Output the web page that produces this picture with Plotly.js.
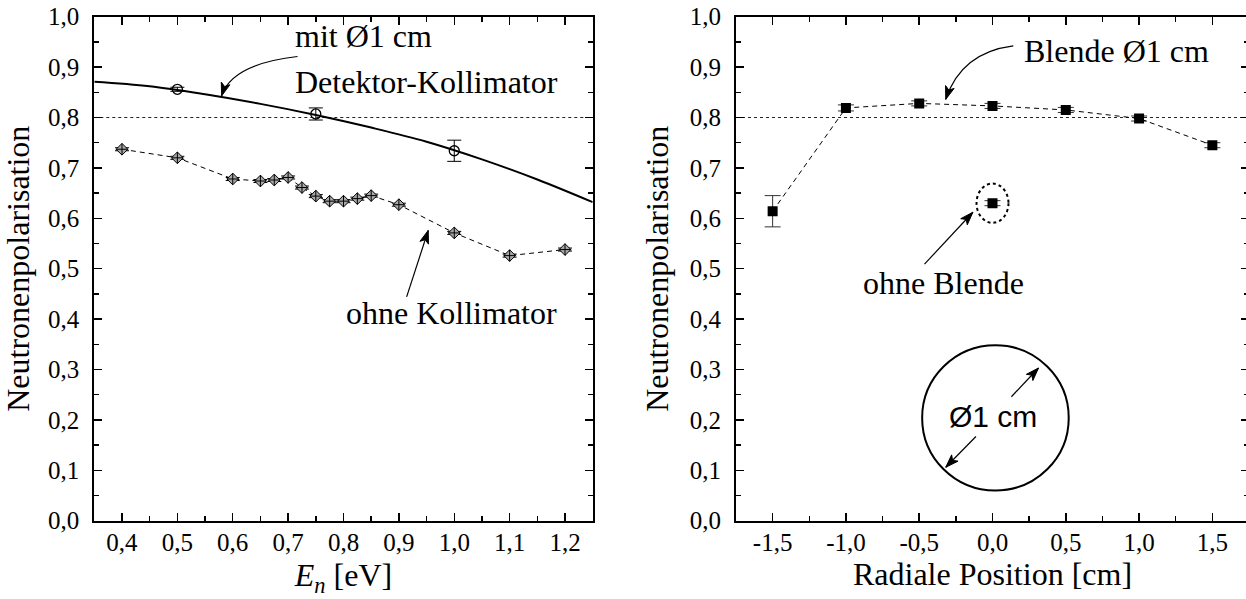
<!DOCTYPE html>
<html>
<head>
<meta charset="utf-8">
<script src="https://cdn.plot.ly/plotly-3.0.1.min.js"></script>
<style>
  html, body { margin: 0; padding: 0; background: #fff; overflow: hidden; }
  #chart { width: 1249px; height: 599px; }
</style>
</head>
<body>
<div id="chart"></div>
<script>
// ---- Left panel: polarisation vs. neutron energy ----
const EN_DET   = [0.5, 0.75, 1.0];            // with 1 cm detector collimator
const POL_DET  = [0.856, 0.807, 0.734];
const ERR_DET  = [0.004, 0.012, 0.021];

const EN_FIT   = [0.35, 0.45, 0.55, 0.65, 0.75, 0.85, 0.95, 1.05, 1.15, 1.25];
const POL_FIT  = [0.871, 0.862, 0.846, 0.827, 0.805, 0.780, 0.752, 0.717, 0.677, 0.632];

const EN_OHNE  = [0.4, 0.5, 0.6, 0.65, 0.675, 0.7, 0.725, 0.75, 0.775, 0.8, 0.825, 0.85, 0.9, 1.0, 1.1, 1.2];
const POL_OHNE = [0.737, 0.720, 0.678, 0.674, 0.676, 0.681, 0.661, 0.644, 0.634, 0.634, 0.639, 0.645, 0.627, 0.571, 0.526, 0.538];
const ERR_OHNE = [0.003, 0.003, 0.003, 0.003, 0.003, 0.003, 0.003, 0.003, 0.003, 0.003, 0.003, 0.003, 0.003, 0.003, 0.003, 0.003];

// ---- Right panel: polarisation vs. radial position ----
const POS          = [-1.5, -1.0, -0.5, 0.0, 0.5, 1.0, 1.5];
const POL_BLENDE   = [0.614, 0.819, 0.828, 0.823, 0.815, 0.798, 0.745];
const ERR_BLENDE   = [0.031, 0.006, 0.005, 0.005, 0.005, 0.005, 0.005];
const POS_FREI     = [0.0];
const POL_FREI     = [0.630];
const ERR_FREI     = [0.005];

const REF_LEVEL = 0.8;

const EN_TICKS  = [0.4, 0.5, 0.6, 0.7, 0.8, 0.9, 1.0, 1.1, 1.2];
const POS_TICKS = [-1.5, -1.0, -0.5, 0.0, 0.5, 1.0, 1.5];
const POS_TICKTEXT = ['-1,5', '-1,0', '-0,5', '0,0', '0,5', '1,0', '1,5'];
const POL_TICKS = [0, 0.1, 0.2, 0.3, 0.4, 0.5, 0.6, 0.7, 0.8, 0.9, 1.0];

const W = 1249, H = 599;
const SERIF = '"Liberation Serif"';
const SANS = '"Liberation Sans"';

// pixel geometry of the two panels
const X1_DOM = [94.3 / W, 592.7 / W], X1_RANGE = [0.35, 1.25];
const X2_DOM = [736 / W, 1.0],        X2_RANGE = [-1.75, 1.75];
const Y_DOM  = [(H - 520.7) / H, (H - 16.7) / H];
const PX_Y   = (Y_DOM[1] - Y_DOM[0]) * H;                   // px per unit polarisation
const PX_X1  = (X1_DOM[1] - X1_DOM[0]) * W / (X1_RANGE[1] - X1_RANGE[0]);
const PX_X2  = (X2_DOM[1] - X2_DOM[0]) * W / (X2_RANGE[1] - X2_RANGE[0]);

// filled arrowhead at (tx,ty) pointing away from (fx,fy), built in pixel space
function arrowHead(xref, yref, pxX, fx, fy, tx, ty) {
  const dx = (tx - fx) * pxX, dy = (ty - fy) * PX_Y;
  const len = Math.hypot(dx, dy), ux = dx / len, uy = dy / len;
  const L = 13, hw = 4.5;
  const bx = -ux * L, by = -uy * L;
  const p1 = [tx + (bx - uy * hw) / pxX, ty + (by + ux * hw) / PX_Y];
  const p2 = [tx + (bx + uy * hw) / pxX, ty + (by - ux * hw) / PX_Y];
  const notch = [tx + (bx * 0.75) / pxX, ty + (by * 0.75) / PX_Y];
  return { type: 'path', xref: xref, yref: yref,
    path: `M ${tx} ${ty} L ${p1[0]} ${p1[1]} L ${notch[0]} ${notch[1]} L ${p2[0]} ${p2[1]} Z`,
    fillcolor: 'black', line: { color: 'black', width: 1 } };
}
function straightArrow(xref, yref, pxX, fx, fy, tx, ty) {
  return [
    { type: 'line', xref: xref, yref: yref, x0: fx, y0: fy, x1: tx, y1: ty,
      line: { color: 'black', width: 1.2 } },
    arrowHead(xref, yref, pxX, fx, fy, tx, ty)
  ];
}
function curvedArrow(xref, yref, pxX, sx, sy, cx, cy, tx, ty) {
  return [
    { type: 'path', xref: xref, yref: yref, path: `M ${sx} ${sy} Q ${cx} ${cy} ${tx} ${ty}`,
      line: { color: 'black', width: 1.2 } },
    arrowHead(xref, yref, pxX, cx, cy, tx, ty)
  ];
}

const traces = [
  { x: EN_FIT, y: POL_FIT, xaxis: 'x', yaxis: 'y', mode: 'lines',
    line: { color: 'black', width: 2, shape: 'spline' }, hoverinfo: 'skip' },
  { x: EN_DET, y: POL_DET, xaxis: 'x', yaxis: 'y', mode: 'markers',
    marker: { symbol: 'circle-open', size: 10, color: 'black', line: { width: 1.3 } },
    error_y: { type: 'data', array: ERR_DET, visible: true, color: 'black', thickness: 1, width: 7 } },
  { x: EN_OHNE, y: POL_OHNE, xaxis: 'x', yaxis: 'y', mode: 'lines+markers',
    line: { color: 'black', width: 1, dash: '5px,4px' },
    marker: { symbol: 'diamond-cross', size: 9, color: '#a8a8a8', line: { color: 'black', width: 1 } },
    error_y: { type: 'data', array: ERR_OHNE, visible: true, color: 'black', thickness: 1, width: 7 } },
  { x: POS, y: POL_BLENDE, xaxis: 'x2', yaxis: 'y2', mode: 'lines+markers',
    line: { color: 'black', width: 1, dash: '5px,4px' },
    marker: { symbol: 'square', size: 10, color: 'black' },
    error_y: { type: 'data', array: ERR_BLENDE, visible: true, color: '#333', thickness: 1, width: 8 } },
  { x: POS_FREI, y: POL_FREI, xaxis: 'x2', yaxis: 'y2', mode: 'markers',
    marker: { symbol: 'square', size: 10, color: 'black' },
    error_y: { type: 'data', array: ERR_FREI, visible: true, color: '#333', thickness: 1, width: 8 } }
];

function xAxisBase(extra) {
  return Object.assign({
    showline: true, linewidth: 2, linecolor: 'black', mirror: 'ticks',
    ticks: 'inside', ticklen: 8, tickwidth: 1.5, tickcolor: 'black',
    showgrid: false, zeroline: false, ticklabelstandoff: -2,
    tickfont: { family: SERIF, size: 25, color: 'black' },
    fixedrange: true
  }, extra);
}

function yAxisBase(extra) {
  return Object.assign({
    range: [0, 1], tickvals: POL_TICKS, tickformat: '.1f',
    showline: true, linewidth: 2, linecolor: 'black', mirror: 'ticks',
    ticks: 'inside', ticklen: 8, tickwidth: 1.5, tickcolor: 'black',
    minor: { dtick: 0.05, tick0: 0, ticks: 'inside', ticklen: 5, tickwidth: 1.5, tickcolor: 'black', showgrid: false },
    showgrid: false, zeroline: false, ticklabelstandoff: 8,
    tickfont: { family: SERIF, size: 25, color: 'black' },
    title: { text: 'Neutronenpolarisation', font: { family: SERIF, size: 32, color: 'black' }, standoff: 12 },
    domain: Y_DOM, fixedrange: true
  }, extra);
}

const shapes = [
  // 0.8 reference level in both panels
  { type: 'line', xref: 'x domain', yref: 'y', x0: 0, x1: 1, y0: REF_LEVEL, y1: REF_LEVEL,
    line: { color: '#222', width: 1, dash: 'dot' }, layer: 'below' },
  { type: 'line', xref: 'x2 domain', yref: 'y2', x0: 0, x1: 1, y0: REF_LEVEL, y1: REF_LEVEL,
    line: { color: '#222', width: 1, dash: 'dot' }, layer: 'below' },
  // dotted ring around the point without aperture
  { type: 'circle', xref: 'x2', yref: 'y2', x0: -0.109, x1: 0.109, y0: 0.591, y1: 0.669,
    line: { color: 'black', width: 2, dash: 'dot' } },
  // aperture sketch
  { type: 'circle', xref: 'x2', yref: 'y2', x0: -0.48, x1: 0.52, y0: 0.06, y1: 0.348,
    line: { color: 'black', width: 2 } }
].concat(
  curvedArrow('x', 'y', PX_X1, 0.717, 0.921, 0.598, 0.906, 0.580, 0.843),
  straightArrow('x', 'y', PX_X1, 0.914, 0.444, 0.953, 0.576),
  curvedArrow('x2', 'y2', PX_X2, 0.142, 0.942, -0.213, 0.929, -0.319, 0.836),
  straightArrow('x2', 'y2', PX_X2, -0.464, 0.509, -0.134, 0.612),
  straightArrow('x2', 'y2', PX_X2, 0.129, 0.246, 0.314, 0.303),
  straightArrow('x2', 'y2', PX_X2, -0.113, 0.167, -0.319, 0.106)
);

const layout = {
  width: W, height: H,
  margin: { l: 0, r: 0, t: 0, b: 0 },
  paper_bgcolor: 'white', plot_bgcolor: 'white',
  showlegend: false,
  separators: ', ',
  font: { family: SERIF, color: 'black' },
  xaxis: xAxisBase({
    domain: X1_DOM, anchor: 'y', range: X1_RANGE,
    tickvals: EN_TICKS, tickformat: '.1f',
    minor: { dtick: 0.05, tick0: 0, ticks: 'inside', ticklen: 5, tickwidth: 1.5, tickcolor: 'black', showgrid: false },
    title: { text: '<i>E</i><sub><i>n</i></sub> [eV]', font: { family: SERIF, size: 32, color: 'black' }, standoff: 9 }
  }),
  yaxis: yAxisBase({ anchor: 'x' }),
  xaxis2: xAxisBase({
    domain: X2_DOM, anchor: 'y2', range: X2_RANGE,
    tickvals: POS_TICKS, ticktext: POS_TICKTEXT,
    minor: { dtick: 0.25, tick0: 0, ticks: 'inside', ticklen: 5, tickwidth: 1.5, tickcolor: 'black', showgrid: false },
    title: { text: 'Radiale Position [cm]', font: { family: SERIF, size: 32, color: 'black' }, standoff: 8 }
  }),
  yaxis2: yAxisBase({ anchor: 'x2' }),
  shapes: shapes,
  annotations: [
    { xref: 'x', yref: 'y', x: 0.709, y: 0.961, xanchor: 'left', yanchor: 'middle', showarrow: false,
      text: 'mit Ø1 cm', font: { family: SERIF, size: 32, color: 'black' } },
    { xref: 'x', yref: 'y', x: 0.709, y: 0.870, xanchor: 'left', yanchor: 'middle', showarrow: false,
      text: 'Detektor-Kollimator', font: { family: SERIF, size: 32, color: 'black' } },
    { xref: 'x', yref: 'y', x: 0.995, y: 0.413, xanchor: 'center', yanchor: 'middle', showarrow: false,
      text: 'ohne Kollimator', font: { family: SERIF, size: 32, color: 'black' } },
    { xref: 'x2', yref: 'y2', x: 0.849, y: 0.932, xanchor: 'center', yanchor: 'middle', showarrow: false,
      text: 'Blende Ø1 cm', font: { family: SERIF, size: 32, color: 'black' } },
    { xref: 'x2', yref: 'y2', x: -0.332, y: 0.472, xanchor: 'center', yanchor: 'middle', showarrow: false,
      text: 'ohne Blende', font: { family: SERIF, size: 32, color: 'black' } },
    { xref: 'x2', yref: 'y2', x: 0.0, y: 0.207, xanchor: 'center', yanchor: 'middle', showarrow: false,
      text: 'Ø1 cm', font: { family: SANS, size: 30, color: 'black' } }
  ]
};

Plotly.newPlot('chart', traces, layout, { displayModeBar: false, staticPlot: true });
</script>
</body>
</html>
